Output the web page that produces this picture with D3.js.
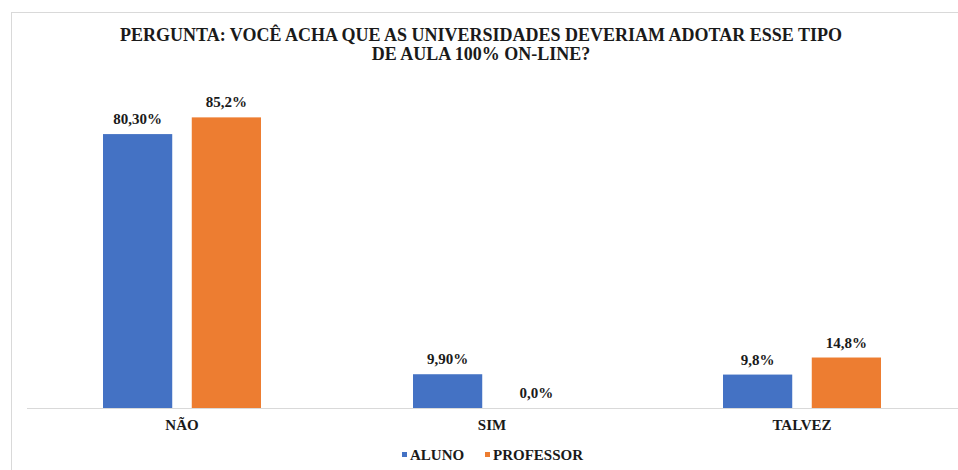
<!DOCTYPE html>
<html>
<head>
<meta charset="utf-8">
<script src="https://cdn.jsdelivr.net/npm/d3@7"></script>
<style>
  body { margin: 0; background: #fff; }
</style>
</head>
<body>
<div id="visualization"></div>
<script>
var categories = ["NÃO", "SIM", "TALVEZ"];
var series = ["ALUNO", "PROFESSOR"];
var aluno = [80.3, 9.9, 9.8];
var professor = [85.2, 0.0, 14.8];
var alunoLabels = ["80,30%", "9,90%", "9,8%"];
var professorLabels = ["85,2%", "0,0%", "14,8%"];
var titleLines = ["PERGUNTA: VOCÊ ACHA QUE AS UNIVERSIDADES DEVERIAM ADOTAR ESSE TIPO", "DE AULA 100% ON-LINE?"];

var width = 958, height = 470;
var colors = { "ALUNO": "#4472C4", "PROFESSOR": "#ED7D31" };
var fontFam = "'Liberation Serif'";

var svg = d3.select("#visualization").append("svg")
    .attr("width", width)
    .attr("height", height);

// light frame (top and left edges visible)
svg.append("line").attr("x1", 11).attr("x2", width).attr("y1", 12.5).attr("y2", 12.5)
    .attr("stroke", "#d9d9d9");
svg.append("line").attr("x1", 11.5).attr("x2", 11.5).attr("y1", 12).attr("y2", height)
    .attr("stroke", "#d9d9d9");

// title
svg.selectAll(".title")
    .data(titleLines)
    .enter().append("text")
    .attr("class", "title")
    .attr("x", 481)
    .attr("y", function (d, i) { return 41 + i * 19; })
    .attr("text-anchor", "middle")
    .attr("fill", "#1a1a1a")
    .style("font-family", fontFam)
    .style("font-weight", "bold")
    .style("font-size", "18px")
    .text(function (d) { return d; });

var x0 = d3.scaleBand().domain(categories).range([27, 957]);
var x1 = d3.scaleBand().domain(series).range([76, 234]).paddingInner(0.22);
var y = d3.scaleLinear().domain([0, 90]).range([408, 101]);

var rows = categories.map(function (c, i) {
    return {
        cat: c,
        vals: [
            { s: "ALUNO", v: aluno[i], label: alunoLabels[i] },
            { s: "PROFESSOR", v: professor[i], label: professorLabels[i] }
        ]
    };
});

var groups = svg.selectAll(".grp")
    .data(rows)
    .enter().append("g")
    .attr("class", "grp")
    .attr("transform", function (d) { return "translate(" + x0(d.cat) + ",0)"; });

groups.selectAll("rect")
    .data(function (d) { return d.vals; })
    .enter().append("rect")
    .attr("x", function (d) { return x1(d.s); })
    .attr("width", x1.bandwidth())
    .attr("y", function (d) { return y(d.v); })
    .attr("height", function (d) { return y(0) - y(d.v); })
    .attr("fill", function (d) { return colors[d.s]; });

groups.selectAll(".val")
    .data(function (d) { return d.vals; })
    .enter().append("text")
    .attr("class", "val")
    .attr("x", function (d) { return x1(d.s) + x1.bandwidth() / 2; })
    .attr("y", function (d) { return y(d.v) - 10; })
    .attr("text-anchor", "middle")
    .attr("fill", "#1a1a1a")
    .style("font-family", fontFam)
    .style("font-weight", "bold")
    .style("font-size", "15px")
    .text(function (d) { return d.label; });

// x axis
var xAxis = d3.axisBottom(x0).tickSize(0).tickPadding(11);
var gx = svg.append("g")
    .attr("transform", "translate(0," + y(0) + ")")
    .call(xAxis);
gx.select(".domain").attr("stroke", "#d9d9d9").attr("d", "M27,0.5H" + width);
gx.selectAll(".tick text")
    .style("font-size", "15px")
    .style("font-family", fontFam)
    .style("font-weight", "bold")
    .attr("fill", "#1a1a1a");

// legend
var legendX = [402, 485];
var legend = svg.selectAll(".legend")
    .data(series)
    .enter().append("g")
    .attr("class", "legend")
    .attr("transform", function (d, i) { return "translate(" + legendX[i] + ",452)"; });
legend.append("rect")
    .attr("width", 5).attr("height", 5)
    .attr("fill", function (d) { return colors[d]; });
legend.append("text")
    .attr("x", 8)
    .attr("y", 8)
    .attr("fill", "#1a1a1a")
    .style("font-family", fontFam)
    .style("font-weight", "bold")
    .style("font-size", "15px")
    .text(function (d) { return d; });
</script>
</body>
</html>
